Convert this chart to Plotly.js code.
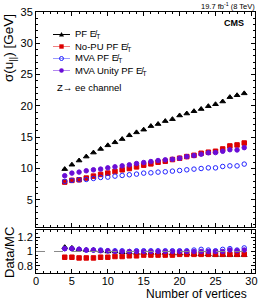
<!DOCTYPE html>
<html>
<head>
<meta charset="utf-8">
<script src="https://cdn.plot.ly/plotly-3.0.1.min.js"></script>
<style>html,body{margin:0;padding:0;background:#fff;}#plot{width:266px;height:302px;}</style>
</head>
<body>
<div id="plot"></div>
<script>
const nVertices = [4,5,6,7,8,9,10,11,12,13,14,15,16,17,18,19,20,21,22,23,24,25,26,27,28,29];

const pfSigma       = [9.9,10.6,11.27,11.9,12.54,13.12,13.7,14.18,14.7,15.3,15.77,16.2,16.77,17.1,17.57,17.88,18.47,18.78,19.15,19.5,19.95,20.26,20.7,21.4,21.7,22.0];
const noPuSigma     = [7.83,8.1,8.2,8.47,8.78,9.05,9.26,9.52,9.79,10.0,10.26,10.53,10.74,11.0,11.16,11.43,11.64,11.9,12.1,12.43,12.6,12.75,13.12,13.6,13.76,14.07];
const mvaSigma      = [7.94,8.1,8.2,8.25,8.41,8.57,8.62,8.78,8.89,9.0,9.1,9.26,9.31,9.42,9.47,9.58,9.68,9.79,9.9,10.0,10.1,10.1,10.32,10.42,10.42,10.7];
const mvaUnitySigma = [8.84,9.26,9.42,9.63,9.79,9.9,10.1,10.26,10.42,10.58,10.79,10.95,11.11,11.27,11.38,11.48,11.64,11.9,12.06,12.28,12.5,12.54,12.75,13.0,12.96,13.33];

const pfRatio       = [1.06,1.05,1.03,1.02,1.02,1.01,1.0,1.0,0.99,0.99,0.98,0.98,0.98,0.98,0.98,0.97,0.97,0.97,0.96,0.96,0.96,0.95,0.95,0.95,0.95,0.95];
const noPuRatio     = [0.92,0.92,0.91,0.91,0.91,0.92,0.92,0.93,0.93,0.94,0.94,0.95,0.95,0.95,0.95,0.95,0.96,0.96,0.96,0.96,0.96,0.96,0.96,0.96,0.96,0.96];
const mvaRatio      = [1.04,1.04,1.03,1.02,1.02,1.02,1.01,1.01,1.01,1.0,1.01,1.01,1.01,1.01,1.01,1.01,1.01,1.01,1.02,1.03,1.02,1.01,1.03,1.04,1.02,1.05];
const mvaUnityRatio = [1.04,1.04,1.03,1.02,1.02,1.01,1.01,1.0,1.0,1.0,1.0,1.0,1.0,1.0,1.0,1.0,1.0,1.0,1.0,1.0,1.0,1.0,1.0,1.02,1.01,1.02];

const seriesNames = ['PF E\u0338<sub>T</sub>','No-PU PF E\u0338<sub>T</sub>','MVA PF E\u0338<sub>T</sub>','MVA Unity PF E\u0338<sub>T</sub>'];
const xTickVals = [0,5,10,15,20,25,30];
const yTickVals = [5,10,15,20,25,30,35];
const rTickVals = [0.8,1.0,1.2];
const rTickText = ['0.8','1','1.2'];

const styles = [
  {symbol:'triangle-up', color:'#000000', line:'#000000', size:5},
  {symbol:'square', color:'#dd0000', line:'#f08080', size:4.5},
  {symbol:'circle-open', color:'#2222ff', line:'#9999ff', size:4.5},
  {symbol:'circle', color:'#6a0dd6', line:'#b488f0', size:4.5}
];
const sigmas = [pfSigma, noPuSigma, mvaSigma, mvaUnitySigma];
const ratios = [pfRatio, noPuRatio, mvaRatio, mvaUnityRatio];

const traces = [];
sigmas.forEach((s,i)=>{
  traces.push({x:nVertices, y:s, type:'scatter', mode:'markers', xaxis:'x', yaxis:'y', showlegend:false,
    marker:{symbol:styles[i].symbol, color:styles[i].color, size:styles[i].size, line:{color:styles[i].color, width:1}}});
});
ratios.forEach((r,i)=>{
  traces.push({x:nVertices, y:r, type:'scatter', mode:'markers', xaxis:'x2', yaxis:'y2', showlegend:false,
    marker:{symbol:styles[i].symbol, color:styles[i].color, size:styles[i].size, line:{color:styles[i].color, width:1}}});
});

const W=266, H=302, ML=36, MR=11, MT=12, MB=29;
const PW = W-ML-MR, PH = H-MT-MB;
const px = x => (x-ML)/PW;
const py = y => (H-MB-y)/PH;

const font = 'Liberation Sans, Arial, sans-serif';
const shapes = [
  {type:'line', xref:'x2', yref:'y2', x0:0, x1:30, y0:1, y1:1, line:{color:'#888', width:1, dash:'dash'}}
];
const annotations = [];
const rowY = [34.5, 46.5, 58.5, 70.5];
rowY.forEach((yy,i)=>{
  shapes.push({type:'line', xref:'paper', yref:'paper', x0:px(53), x1:px(70), y0:py(yy), y1:py(yy), line:{color:styles[i].line, width:1}});
  const base = {xref:'paper', yref:'paper', xsizemode:'pixel', ysizemode:'pixel', xanchor:px(61.5), yanchor:py(yy)};
  if (i===0) shapes.push(Object.assign({type:'path', path:'M-2.5,-2 L2.5,-2 L0,2.5 Z', fillcolor:'#000', line:{color:'#000', width:0}}, base));
  if (i===1) shapes.push(Object.assign({type:'rect', x0:-2.2, x1:2.2, y0:-2.2, y1:2.2, fillcolor:styles[1].color, line:{color:styles[1].color, width:0}}, base));
  if (i===2) shapes.push(Object.assign({type:'circle', x0:-2, x1:2, y0:-2, y1:2, fillcolor:'rgba(0,0,0,0)', line:{color:styles[2].color, width:1}}, base));
  if (i===3) shapes.push(Object.assign({type:'circle', x0:-2.3, x1:2.3, y0:-2.3, y1:2.3, fillcolor:styles[3].color, line:{color:styles[3].color, width:0}}, base));
  annotations.push({xref:'paper', yref:'paper', x:px(73), y:py(yy), xanchor:'left', yanchor:'middle', showarrow:false,
    text:seriesNames[i], font:{family:font, size:9.5, color:'#000'}});
});
annotations.push({xref:'paper', yref:'paper', x:px(55), y:py(87.5), xanchor:'left', yanchor:'middle', showarrow:false,
  text:'Z\u2192 ee channel', font:{family:font, size:9.5, color:'#000'}});
annotations.push({xref:'paper', yref:'paper', x:px(246), y:py(23), xanchor:'right', yanchor:'middle', showarrow:false,
  text:'<b>CMS</b>', font:{family:font, size:9, color:'#000'}});
annotations.push({xref:'paper', yref:'paper', x:px(257), y:py(5.5), xanchor:'right', yanchor:'middle', showarrow:false,
  text:'19.7 fb<sup>-1</sup> (8 TeV)', font:{family:font, size:7.5, color:'#000'}});
annotations.push({xref:'paper', yref:'paper', x:px(9), y:py(12), xanchor:'center', yanchor:'top', textangle:-90, showarrow:false,
  text:'\u03c3(u<sub>||</sub>) [GeV]', font:{family:font, size:13.5, color:'#000'}});
annotations.push({xref:'paper', yref:'paper', x:px(9), y:py(253), xanchor:'center', yanchor:'middle', textangle:-90, showarrow:false,
  text:'Data/MC', font:{family:font, size:13, color:'#000'}});
annotations.push({xref:'paper', yref:'paper', x:px(249), y:py(294), xanchor:'right', yanchor:'middle', showarrow:false,
  text:'Number of vertices', font:{family:font, size:12, color:'#000'}});

const axBase = {showgrid:false, zeroline:false, showline:true, linecolor:'#000', linewidth:1, mirror:'allticks',
  ticks:'inside', ticklen:4, tickwidth:1, tickcolor:'#000', tickfont:{family:font, size:11, color:'#000'}};

const layout = {
  width:W, height:H, margin:{l:ML, r:MR, t:MT, b:MB, pad:0},
  paper_bgcolor:'#fff', plot_bgcolor:'#fff', showlegend:false,
  xaxis: Object.assign({}, axBase, {domain:[0,1], range:[0,30.5], anchor:'y', matches:'x2', tickvals:xTickVals, showticklabels:false,
    minor:{dtick:1, ticks:'inside', ticklen:2, tickcolor:'#000'}}),
  yaxis: Object.assign({}, axBase, {domain:[0.1762,1], range:[0.65,35], anchor:'x', tickvals:yTickVals,
    minor:{dtick:1, ticks:'inside', ticklen:2, tickcolor:'#000'}}),
  xaxis2: Object.assign({}, axBase, {domain:[0,1], range:[0,30.5], anchor:'y2', tickvals:xTickVals, ticklabelstandoff:-2,
    minor:{dtick:1, ticks:'inside', ticklen:2, tickcolor:'#000'}}),
  yaxis2: Object.assign({}, axBase, {domain:[0,0.1648], range:[0.7,1.3], anchor:'x2', tickvals:rTickVals, ticktext:rTickText,
    minor:{dtick:0.05, ticks:'inside', ticklen:2, tickcolor:'#000'}}),
  shapes:shapes, annotations:annotations
};

Plotly.newPlot('plot', traces, layout, {displayModeBar:false, staticPlot:true});
</script>
</body>
</html>
